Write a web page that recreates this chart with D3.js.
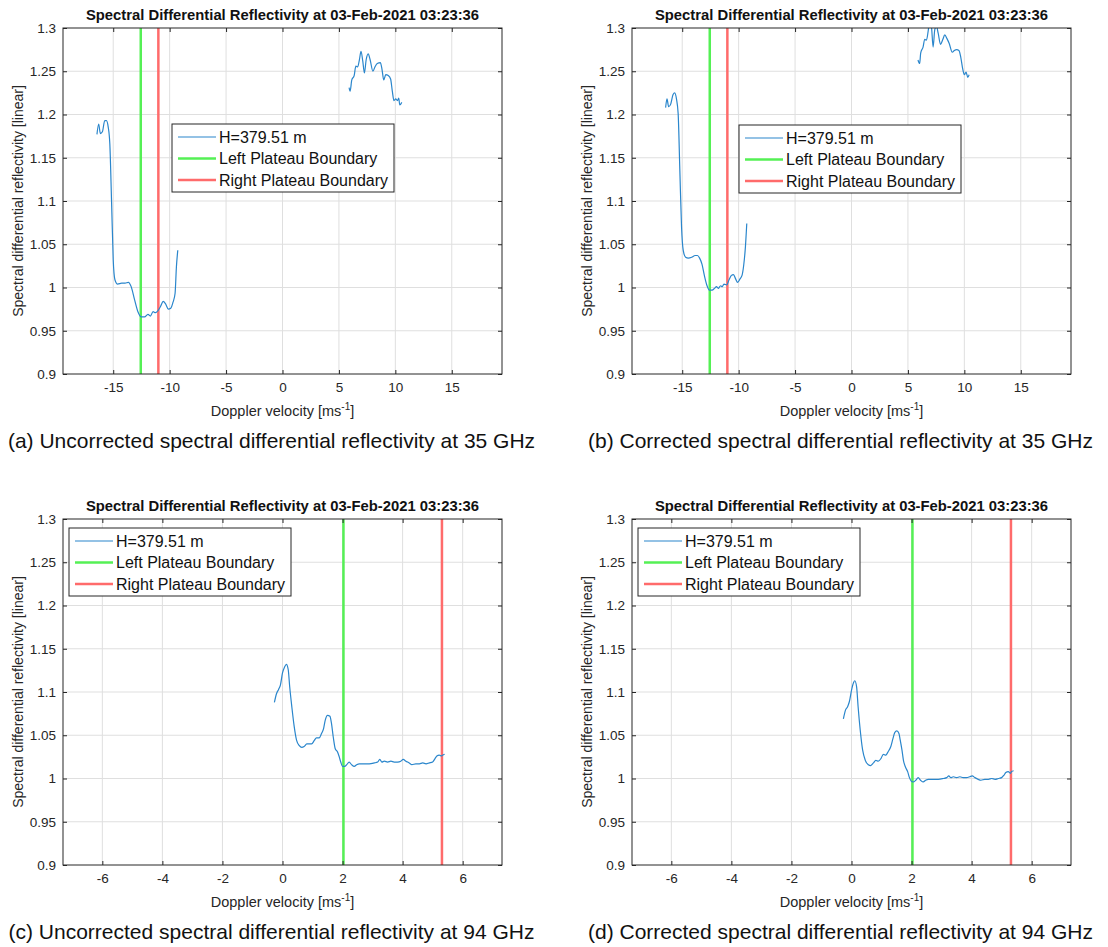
<!DOCTYPE html>
<html>
<head>
<meta charset="utf-8">
<script src="https://cdn.jsdelivr.net/npm/d3@7"></script>
<style>
body { margin: 0; background: #fff; }
text { font-family: "Liberation Sans", Arial, Helvetica, sans-serif; }
</style>
</head>
<body>
<div id="container"></div>
<script>
// ---- data ----
const titleText = 'Spectral Differential Reflectivity at 03-Feb-2021 03:23:36';
const legendLabels = ['H=379.51 m', 'Left Plateau Boundary', 'Right Plateau Boundary'];
const captions = [
	'(a) Uncorrected spectral differential reflectivity at 35 GHz',
	'(b) Corrected spectral differential reflectivity at 35 GHz',
	'(c) Uncorrected spectral differential reflectivity at 94 GHz',
	'(d) Corrected spectral differential reflectivity at 94 GHz'
];
const yTicks = [0.9, 0.95, 1, 1.05, 1.1, 1.15, 1.2, 1.25, 1.3];
const yRange = [0.9, 1.3];
const kaTicks = [-15, -10, -5, 0, 5, 10, 15];
const kaRange = [-19.45, 19.45];
const wTicks = [-6, -4, -2, 0, 2, 4, 6];
const wRange = [-7.31, 7.31];
const kaBounds = [-12.56, -11.0];
const wBounds = [2.03, 5.31];

// (a) 35 GHz, uncorrected
const velA1 = [-16.44,-16.29,-16.14,-15.96,-15.75,-15.6,-15.45,-15.3,-15.15,-15.0,-14.85,-14.61,-14.25,-13.95,-13.65,-13.41,-13.11,-12.81,-12.51,-12.22,-11.92,-11.71,-11.47,-11.26,-11.05,-10.81,-10.57,-10.36,-10.12,-9.9,-9.7,-9.52,-9.4,-9.28];
const zdrA1 = [1.177,1.189,1.178,1.180,1.193,1.193,1.186,1.166,1.101,1.032,1.009,1.004,1.005,1.005,1.006,1.001,0.986,0.972,0.966,0.966,0.969,0.967,0.972,0.971,0.973,0.978,0.984,0.981,0.975,0.976,0.983,0.993,1.024,1.043];
const velA2 = [5.9,5.99,6.14,6.35,6.5,6.66,6.81,6.96,7.11,7.26,7.41,7.59,7.77,8.01,8.19,8.4,8.67,8.82,8.97,9.15,9.37,9.58,9.73,9.88,10.03,10.18,10.3,10.39,10.57];
const zdrA2 = [1.231,1.227,1.240,1.245,1.256,1.255,1.263,1.273,1.262,1.248,1.263,1.270,1.263,1.250,1.255,1.259,1.260,1.252,1.240,1.246,1.245,1.241,1.227,1.216,1.218,1.216,1.219,1.211,1.214];

// (b) 35 GHz, corrected
const velB1 = [-16.47,-16.35,-16.2,-16.02,-15.81,-15.66,-15.51,-15.36,-15.21,-15.06,-14.91,-14.7,-14.46,-14.16,-13.86,-13.65,-13.46,-13.25,-13.04,-12.8,-12.59,-12.35,-12.14,-11.96,-11.81,-11.6,-11.45,-11.3,-11.06,-10.85,-10.64,-10.46,-10.27,-10.09,-9.88,-9.7,-9.55,-9.4,-9.28];
const zdrB1 = [1.208,1.218,1.209,1.212,1.223,1.225,1.218,1.201,1.135,1.070,1.043,1.035,1.034,1.035,1.037,1.037,1.034,1.027,1.014,1.002,0.997,0.997,0.999,1.001,0.999,1.002,1.001,1.004,1.003,1.009,1.014,1.015,1.010,1.006,1.010,1.014,1.026,1.047,1.074];
const velB2 = [5.89,6.04,6.13,6.34,6.49,6.64,6.79,6.9,7.08,7.23,7.38,7.53,7.68,7.89,8.07,8.27,8.45,8.66,8.93,9.11,9.32,9.52,9.7,9.85,10.0,10.15,10.3,10.42];
const zdrB2 = [1.263,1.259,1.271,1.278,1.287,1.286,1.296,1.306,1.302,1.278,1.298,1.302,1.294,1.281,1.286,1.292,1.288,1.282,1.272,1.274,1.275,1.274,1.265,1.253,1.246,1.249,1.243,1.246];

// (c) 94 GHz, uncorrected
const velC = [-0.27,-0.2,-0.13,-0.07,0.0,0.07,0.13,0.19,0.24,0.31,0.39,0.47,0.56,0.64,0.72,0.81,0.89,0.97,1.06,1.13,1.22,1.3,1.37,1.42,1.5,1.58,1.63,1.69,1.76,1.83,1.89,1.94,2.0,2.07,2.14,2.22,2.3,2.39,2.47,2.56,2.72,2.89,3.06,3.17,3.24,3.31,3.39,3.5,3.61,3.72,3.83,3.94,4.02,4.11,4.22,4.31,4.44,4.56,4.67,4.78,4.89,5.0,5.08,5.14,5.22,5.29,5.33,5.4];
const zdrC = [1.088,1.098,1.103,1.108,1.122,1.129,1.132,1.126,1.106,1.083,1.060,1.044,1.038,1.036,1.037,1.040,1.040,1.040,1.044,1.047,1.047,1.052,1.058,1.067,1.073,1.072,1.064,1.048,1.034,1.031,1.025,1.019,1.014,1.014,1.016,1.019,1.016,1.014,1.016,1.017,1.017,1.017,1.018,1.019,1.022,1.019,1.020,1.019,1.020,1.019,1.019,1.020,1.022,1.020,1.018,1.016,1.017,1.017,1.018,1.017,1.018,1.019,1.023,1.026,1.027,1.026,1.027,1.028];

// (d) 94 GHz, corrected
const velD = [-0.27,-0.2,-0.13,-0.07,0.0,0.07,0.11,0.17,0.22,0.29,0.37,0.46,0.56,0.64,0.73,0.81,0.89,0.98,1.06,1.14,1.22,1.31,1.38,1.44,1.51,1.58,1.62,1.68,1.73,1.8,1.87,1.93,1.99,2.05,2.14,2.22,2.3,2.39,2.47,2.56,2.72,2.89,3.06,3.17,3.24,3.31,3.39,3.5,3.61,3.72,3.83,3.94,4.02,4.11,4.22,4.31,4.44,4.56,4.67,4.78,4.89,5.0,5.08,5.14,5.22,5.29,5.33,5.4];
const zdrD = [1.069,1.079,1.083,1.089,1.102,1.111,1.113,1.106,1.083,1.056,1.033,1.021,1.016,1.015,1.018,1.021,1.020,1.023,1.028,1.027,1.031,1.037,1.046,1.053,1.055,1.052,1.045,1.033,1.021,1.013,1.008,1.001,0.997,0.996,0.998,1.001,0.998,0.996,0.998,0.999,0.999,0.999,1.000,1.001,1.003,1.001,1.002,1.001,1.002,1.001,1.001,1.002,1.003,1.001,0.999,0.998,0.999,0.999,1.000,0.999,1.000,1.001,1.004,1.007,1.008,1.006,1.008,1.009];

// ---- layout ----
const W = 1108, H = 947;
const pw = 439, ph = 346;
const font = '"Liberation Sans", Arial, Helvetica, sans-serif';
const axisCol = '#262626';

const panels = [
	{ left: 63,  top: 28,  xDom: kaRange, xTicks: kaTicks, bounds: kaBounds, segs: [[velA1, zdrA1], [velA2, zdrA2]], legX: 109, legY: 96,  cap: captions[0] },
	{ left: 632, top: 28,  xDom: kaRange, xTicks: kaTicks, bounds: kaBounds, segs: [[velB1, zdrB1], [velB2, zdrB2]], legX: 107, legY: 97,  cap: captions[1] },
	{ left: 63,  top: 519, xDom: wRange,  xTicks: wTicks,  bounds: wBounds,  segs: [[velC, zdrC]], legX: 6, legY: 9, cap: captions[2] },
	{ left: 632, top: 519, xDom: wRange,  xTicks: wTicks,  bounds: wBounds,  segs: [[velD, zdrD]], legX: 6, legY: 9, cap: captions[3] }
];

const svg = d3.select('#container').append('svg')
	.attr('width', W)
	.attr('height', H)
	.style('display', 'block');

const fmt = (d) => String(+d.toFixed(2));

panels.forEach((p, i) => {
	const x = d3.scaleLinear().domain(p.xDom).range([0, pw]);
	const y = d3.scaleLinear().domain(yRange).range([ph, 0]);

	const g = svg.append('g').attr('transform', `translate(${p.left},${p.top})`);

	svg.append('clipPath').attr('id', 'clip' + i)
		.append('rect').attr('width', pw).attr('height', ph);

	// grid
	g.append('g').selectAll('line').data(p.xTicks).enter().append('line')
		.attr('x1', (d) => x(d)).attr('x2', (d) => x(d))
		.attr('y1', 0).attr('y2', ph)
		.attr('stroke', '#dfdfdf').attr('stroke-width', 1);
	g.append('g').selectAll('line').data(yTicks.slice(1, -1)).enter().append('line')
		.attr('y1', (d) => y(d)).attr('y2', (d) => y(d))
		.attr('x1', 0).attr('x2', pw)
		.attr('stroke', '#dfdfdf').attr('stroke-width', 1);

	const plot = g.append('g').attr('clip-path', `url(#clip${i})`);

	// boundaries
	plot.append('line')
		.attr('x1', x(p.bounds[0])).attr('x2', x(p.bounds[0]))
		.attr('y1', 0).attr('y2', ph)
		.attr('stroke', '#55f055').attr('stroke-width', 2.5);
	plot.append('line')
		.attr('x1', x(p.bounds[1])).attr('x2', x(p.bounds[1]))
		.attr('y1', 0).attr('y2', ph)
		.attr('stroke', '#ff6b6b').attr('stroke-width', 2.5);

	const line = d3.line()
		.x((d) => x(d[0]))
		.y((d) => y(d[1]))
		.curve(d3.curveMonotoneX);

	p.segs.forEach((s) => {
		plot.append('path')
			.datum(d3.zip(s[0], s[1]))
			.attr('d', line)
			.attr('fill', 'none')
			.attr('stroke', '#2a86cc')
			.attr('stroke-width', 1.2);
	});

	// axes, ticks inside
	const styleAxis = (sel) => {
		sel.select('.domain').remove();
		sel.selectAll('line').attr('stroke', axisCol);
		sel.selectAll('text').attr('fill', axisCol).style('font-size', '13.5px').style('font-family', font);
	};
	g.append('g').attr('transform', `translate(0,${ph})`)
		.call(d3.axisBottom(x).tickValues(p.xTicks).tickFormat(fmt).tickSize(-4).tickPadding(8))
		.call(styleAxis);
	g.append('g')
		.call(d3.axisTop(x).tickValues(p.xTicks).tickFormat('').tickSize(-4))
		.call(styleAxis);
	g.append('g')
		.call(d3.axisLeft(y).tickValues(yTicks).tickFormat(fmt).tickSize(-4).tickPadding(7))
		.call(styleAxis);
	g.append('g').attr('transform', `translate(${pw},0)`)
		.call(d3.axisRight(y).tickValues(yTicks).tickFormat('').tickSize(-4))
		.call(styleAxis);

	g.append('rect')
		.attr('width', pw).attr('height', ph)
		.attr('fill', 'none').attr('stroke', axisCol).attr('stroke-width', 1);

	// title
	g.append('text')
		.attr('x', pw / 2).attr('y', -8)
		.attr('text-anchor', 'middle')
		.style('font-size', '14.8px').style('font-weight', 'bold')
		.attr('fill', '#111')
		.text(titleText);

	// axis labels
	const xl = g.append('text')
		.attr('x', pw / 2).attr('y', ph + 42)
		.attr('text-anchor', 'middle')
		.style('font-size', '14.5px')
		.attr('fill', axisCol);
	xl.append('tspan').text('Doppler velocity [ms');
	xl.append('tspan').attr('dy', -6).style('font-size', '10px').text('-1');
	xl.append('tspan').attr('dy', 6).text(']');

	g.append('text')
		.attr('transform', `translate(-40,${ph / 2}) rotate(-90)`)
		.attr('text-anchor', 'middle')
		.style('font-size', '14px')
		.attr('fill', axisCol)
		.text('Spectral differential reflectivity [linear]');

	// legend
	const leg = g.append('g').attr('transform', `translate(${p.legX},${p.legY})`);
	leg.append('rect')
		.attr('width', 222).attr('height', 68)
		.attr('fill', '#fff').attr('stroke', axisCol).attr('stroke-width', 1);
	const legCols = ['#2a86cc', '#55f055', '#ff6b6b'];
	const legW = [1.2, 2.5, 2.5];
	legendLabels.forEach((lab, k) => {
		const cy = 13 + k * 21.5;
		leg.append('line')
			.attr('x1', 6).attr('x2', 44)
			.attr('y1', cy).attr('y2', cy)
			.attr('stroke', legCols[k]).attr('stroke-width', legW[k]);
		leg.append('text')
			.attr('x', 47).attr('y', cy + 5.5)
			.style('font-size', '16px')
			.attr('fill', '#111')
			.text(lab);
	});

	// caption
	svg.append('text')
		.attr('x', p.left + pw / 2 - 11).attr('y', p.top + ph + 74)
		.attr('text-anchor', 'middle')
		.style('font-size', '21px')
		.attr('fill', '#111')
		.text(p.cap);
});
</script>
</body>
</html>
